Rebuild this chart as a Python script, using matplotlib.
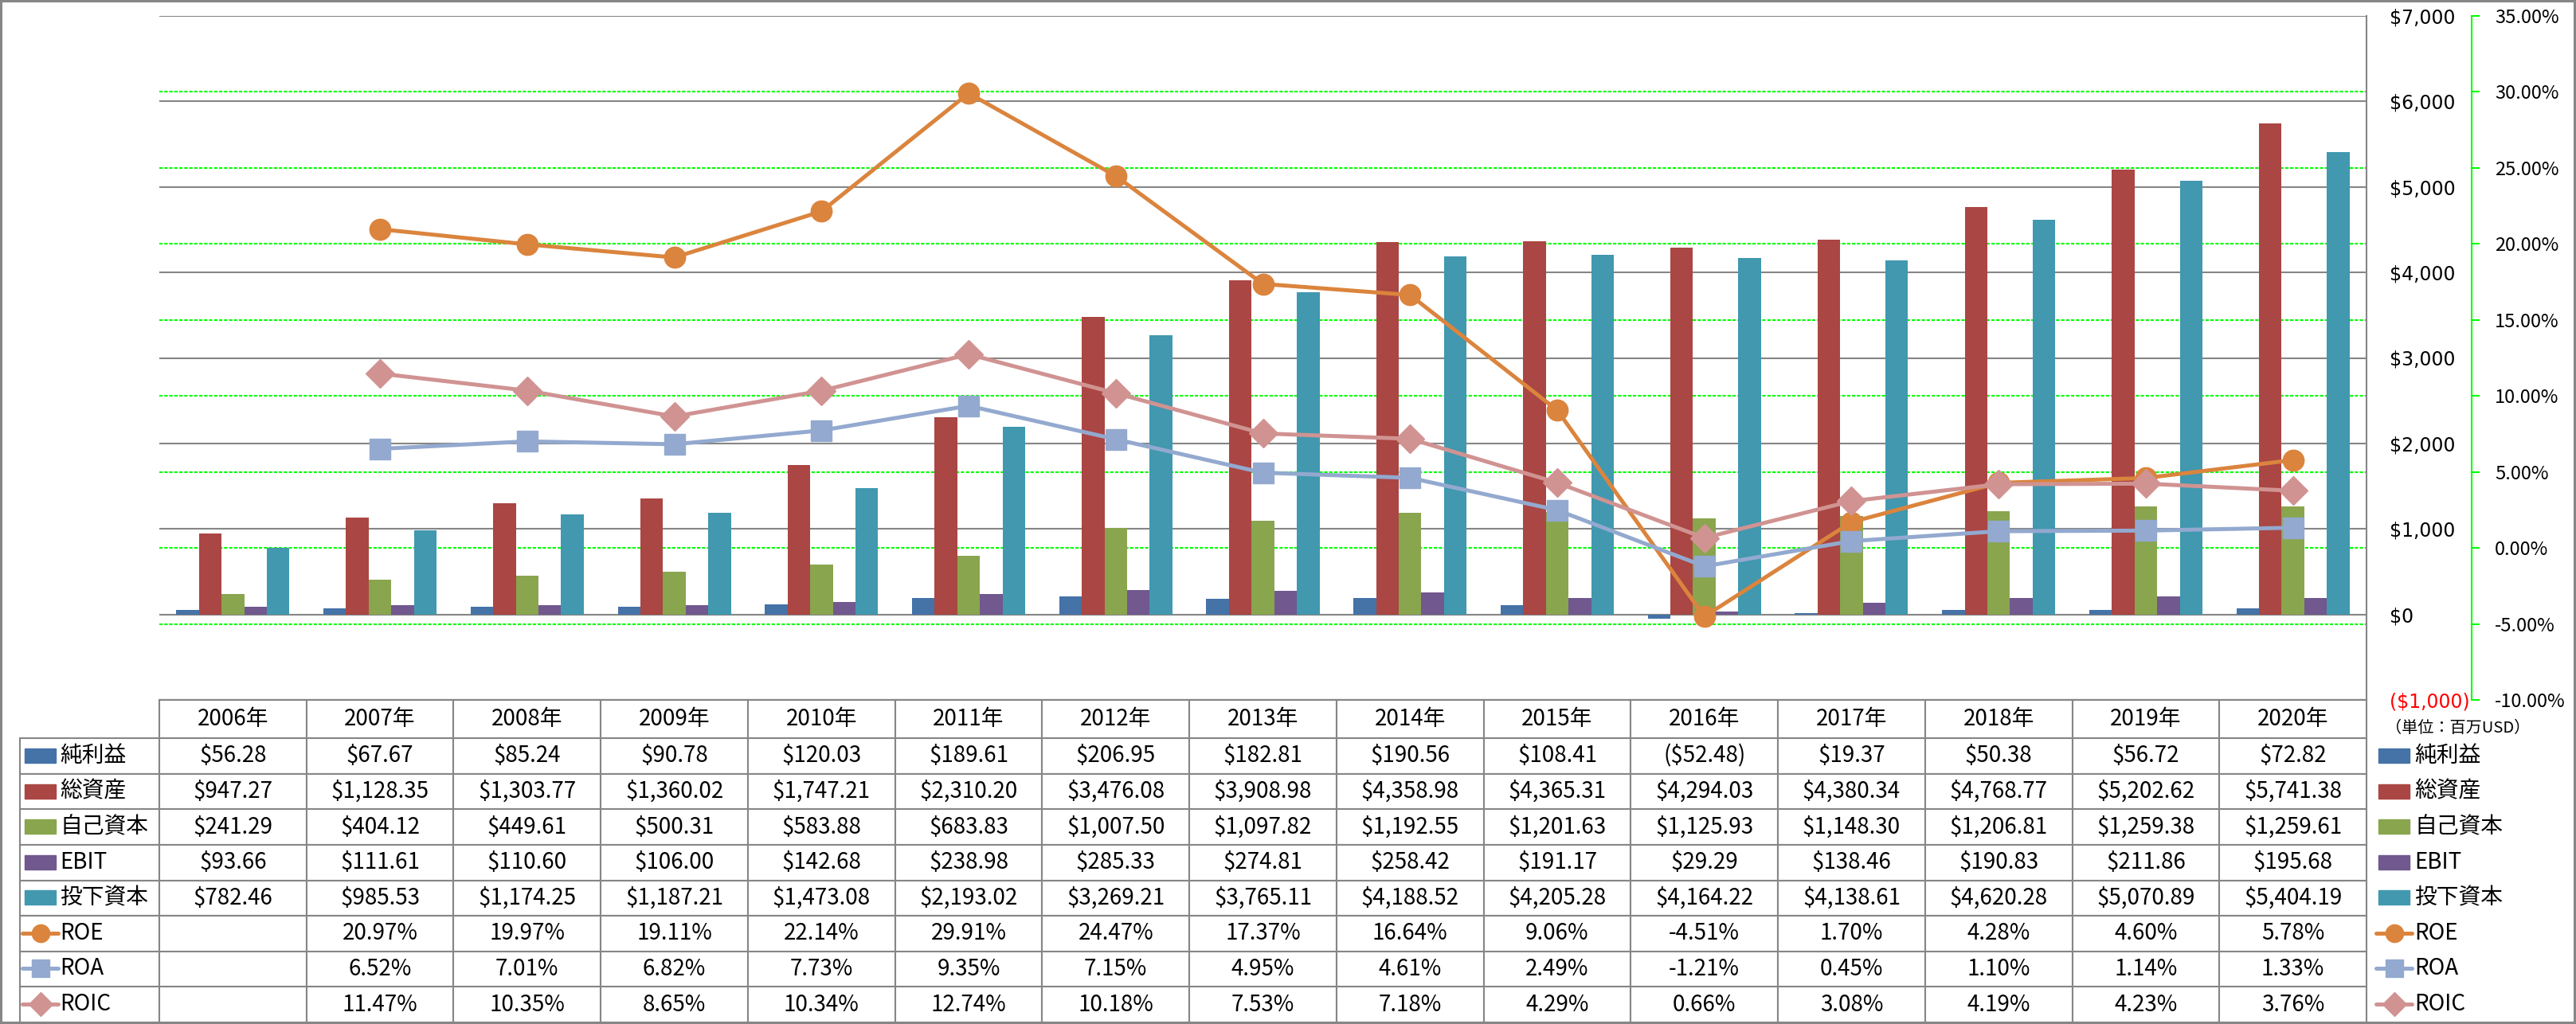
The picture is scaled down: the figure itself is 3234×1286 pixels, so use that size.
import numpy as np
import matplotlib
matplotlib.use('Agg')
import matplotlib.pyplot as plt
from matplotlib.patches import Rectangle
from matplotlib.lines import Line2D

plt.rcParams['font.family'] = ['Noto Sans CJK JP', 'DejaVu Sans']

# ---- data -------------------------------------------------------------
years = [2006, 2007, 2008, 2009, 2010, 2011, 2012, 2013,
         2014, 2015, 2016, 2017, 2018, 2019, 2020]
year_labels = [f'{y}年' for y in years]

net_income   = [56.28, 67.67, 85.24, 90.78, 120.03, 189.61, 206.95, 182.81,
                190.56, 108.41, -52.48, 19.37, 50.38, 56.72, 72.82]
total_assets = [947.27, 1128.35, 1303.77, 1360.02, 1747.21, 2310.20, 3476.08, 3908.98,
                4358.98, 4365.31, 4294.03, 4380.34, 4768.77, 5202.62, 5741.38]
equity       = [241.29, 404.12, 449.61, 500.31, 583.88, 683.83, 1007.50, 1097.82,
                1192.55, 1201.63, 1125.93, 1148.30, 1206.81, 1259.38, 1259.61]
ebit         = [93.66, 111.61, 110.60, 106.00, 142.68, 238.98, 285.33, 274.81,
                258.42, 191.17, 29.29, 138.46, 190.83, 211.86, 195.68]
invested     = [782.46, 985.53, 1174.25, 1187.21, 1473.08, 2193.02, 3269.21, 3765.11,
                4188.52, 4205.28, 4164.22, 4138.61, 4620.28, 5070.89, 5404.19]

roe  = [np.nan, 20.97, 19.97, 19.11, 22.14, 29.91, 24.47, 17.37,
        16.64, 9.06, -4.51, 1.70, 4.28, 4.60, 5.78]
roa  = [np.nan, 6.52, 7.01, 6.82, 7.73, 9.35, 7.15, 4.95,
        4.61, 2.49, -1.21, 0.45, 1.10, 1.14, 1.33]
roic = [np.nan, 11.47, 10.35, 8.65, 10.34, 12.74, 10.18, 7.53,
        7.18, 4.29, 0.66, 3.08, 4.19, 4.23, 3.76]

bar_names  = ['純利益', '総資産', '自己資本', 'EBIT', '投下資本']
bar_data   = [net_income, total_assets, equity, ebit, invested]
bar_colors = ['#4572A7', '#AA4643', '#89A54E', '#71588F', '#4198AF']

line_names   = ['ROE', 'ROA', 'ROIC']
line_data    = [roe, roa, roic]
line_colors  = ['#DB843D', '#93A9CF', '#D09392']
line_markers = ['o', 's', 'D']
line_msize   = [19, 19, 18]

usd_ticks = [-1000, 0, 1000, 2000, 3000, 4000, 5000, 6000, 7000]
pct_ticks = [-10, -5, 0, 5, 10, 15, 20, 25, 30, 35]

GRAY = '#868686'
GREEN = '#00FF00'


def fmt_usd(v):
    if np.isnan(v):
        return ''
    s = f'${abs(v):,.2f}'
    return f'({s})' if v < 0 else s


def fmt_pct(v):
    if np.isnan(v):
        return ''
    return f'{v:.2f}%'


# ---- layout (pixels) --------------------------------------------------
W, H = 3234, 1286
AX_L, AX_R, AX_T, AX_B = 200, 2971, 20, 879
TAB_L, TAB_B = 25, 1284
HEAD_H, ROW_H = 48, 44.5


def ax_x(px):
    return (px - AX_L) / (AX_R - AX_L)


def ax_y(py):
    return (AX_B - py) / (AX_B - AX_T)


fig = plt.figure(figsize=(W / 100, H / 100), dpi=100)
fig.patch.set_facecolor('white')
fig.patch.set_edgecolor(GRAY)
fig.patch.set_linewidth(4)

rect = [AX_L / W, 1 - AX_B / H, (AX_R - AX_L) / W, (AX_B - AX_T) / H]
ax = fig.add_axes(rect)
axg = ax.twinx()     # green % grid, behind the bars
ax2 = ax.twinx()     # % lines on top
axg.set_zorder(0)
ax.set_zorder(1)
ax2.set_zorder(2)
ax.patch.set_visible(False)

x = np.arange(len(years))
n_bars = len(bar_data)
bw = 1 / 6.5

# ---- bars -------------------------------------------------------------
for k, (name, vals, col) in enumerate(zip(bar_names, bar_data, bar_colors)):
    ax.bar(x + (k - (n_bars - 1) / 2) * bw, vals, width=bw, color=col,
           label=name, zorder=2)

ax.set_xlim(-0.5, len(years) - 0.5)
ax.set_ylim(-1000, 7000)
ax.set_xticks([])
ax.yaxis.tick_right()
ax.set_yticks(usd_ticks, [fmt_usd(v).replace('.00', '') for v in usd_ticks])
ax.tick_params(axis='y', length=0, pad=21, labelsize=17, labelright=True,
               labelleft=False)
for lab, v in zip(ax.get_yticklabels(), usd_ticks):
    lab.set_fontfamily('DejaVu Sans')
    lab.set_color('red' if v < 0 else 'black')
ax.grid(axis='y', color=GRAY, lw=1.5)
ax.set_axisbelow(True)
for s in ['left', 'top']:
    ax.spines[s].set_visible(False)
for s in ['right', 'bottom']:
    ax.spines[s].set_color(GRAY)
    ax.spines[s].set_linewidth(1.5)

# ---- green grid axis ---------------------------------------------------
axg.set_ylim(-10, 35)
axg.set_yticks(pct_ticks)
axg.grid(axis='y', color=GREEN, lw=1.5, linestyle=(0, (2, 1)))
axg.tick_params(axis='y', right=False, labelright=False, left=False,
                labelleft=False)
for s in axg.spines.values():
    s.set_visible(False)

# ---- lines ------------------------------------------------------------
for name, vals, col, mk, ms in zip(line_names, line_data, line_colors,
                                   line_markers, line_msize):
    ax2.plot(x, vals, color=col, lw=3.6, marker=mk, ms=ms, mec=col,
             mfc=col, label=name, solid_joinstyle='round')

ax2.set_ylim(-10, 35)
ax2.set_yticks(pct_ticks, [fmt_pct(v) for v in pct_ticks])
ax2.tick_params(axis='y', direction='out', length=7.2, width=1.5,
                color=GREEN, pad=13.7, labelsize=17)
for lab, v in zip(ax2.get_yticklabels(), pct_ticks):
    lab.set_fontfamily('DejaVu Sans')
    lab.set_color('red' if v < 0 else 'black')
ax2.spines['right'].set_position(('outward', (3103 - AX_R) * 0.72))
ax2.spines['right'].set_color(GREEN)
ax2.spines['right'].set_linestyle((0, (2, 1)))
ax2.spines['right'].set_linewidth(1.5)
for s in ['left', 'top', 'bottom']:
    ax2.spines[s].set_visible(False)

# ---- data table -------------------------------------------------------
# first column is left blank for the legend keys + names drawn below
row_names = bar_names + line_names
cell_text = [[''] + [fmt_usd(v) for v in vals] for vals in bar_data] + \
            [[''] + [fmt_pct(v) for v in vals] for vals in line_data]

table = ax.table(cellText=cell_text, colLabels=[''] + year_labels,
                 cellLoc='center',
                 bbox=[ax_x(TAB_L), ax_y(TAB_B), ax_x(AX_R) - ax_x(TAB_L),
                       (TAB_B - AX_B) / (AX_B - AX_T)])
table.auto_set_font_size(False)
table.set_fontsize(20)
col_w = (AX_R - AX_L) / len(years)
for (r, c), cell in table.get_celld().items():
    cell.set_edgecolor(GRAY)
    cell.set_linewidth(1.5)
    cell.set_width(AX_L - TAB_L if c == 0 else col_w)
    cell.set_height(HEAD_H if r == 0 else ROW_H)
    if r == 0 and c == 0:
        cell.visible_edges = ''

# ---- legend keys (in table and at the right) --------------------------
all_names = bar_names + line_names
all_colors = bar_colors + line_colors
for i, (name, col) in enumerate(zip(all_names, all_colors)):
    yc = AX_B + HEAD_H + ROW_H * (i + 0.5)
    for x0, x1, tx in [(31, 70, 75), (2986, 3025, 3031)]:
        if i < n_bars:
            ax.add_patch(Rectangle((ax_x(x0), ax_y(yc + 9)),
                                   ax_x(x1) - ax_x(x0), ax_y(yc - 9) - ax_y(yc + 9),
                                   transform=ax.transAxes, color=col,
                                   clip_on=False))
        else:
            j = i - n_bars
            ax.add_line(Line2D([ax_x(x0 - 3), ax_x(x1 + 3)], [ax_y(yc)] * 2,
                               transform=ax.transAxes, color=col, lw=3.6,
                               solid_capstyle='round', clip_on=False))
            ax.add_line(Line2D([ax_x((x0 + x1) / 2)], [ax_y(yc)],
                               transform=ax.transAxes, color=col,
                               marker=line_markers[j],
                               ms=line_msize[j] - 3, clip_on=False))
        ax.text(ax_x(tx), ax_y(yc), name, transform=ax.transAxes,
                fontsize=20, va='center', ha='left')

ax.text(ax_x(2995), ax_y(914), '（単位：百万USD）', transform=ax.transAxes,
        fontsize=14.5, va='center', ha='left')

fig.savefig('out.png', dpi=100)
